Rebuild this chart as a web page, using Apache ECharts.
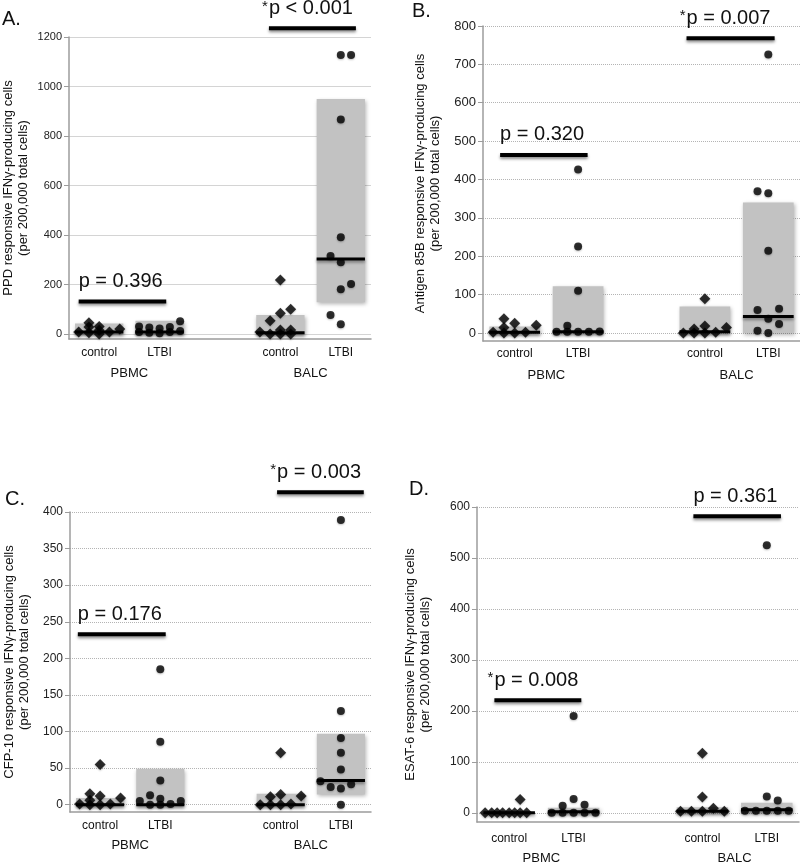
<!DOCTYPE html>
<html><head><meta charset="utf-8">
<script src="https://cdn.jsdelivr.net/npm/echarts@6/dist/echarts.min.js"></script>
<style>html,body{margin:0;padding:0;background:#fff}#c{width:800px;height:865px}</style>
</head><body><div id="c"></div>
<script>
// ---------- shared categories ----------
const categories = ['control', 'LTBI', 'control', 'LTBI'];
const categoryPos = [0, 1, 3, 4];
const groups = ['PBMC', 'BALC'];
const groupPos = [0.5, 3.5];

// ---------- Panel A : PPD ----------
const A_ticks = [0, 200, 400, 600, 800, 1000, 1200];
const A_ctrlPBMC = [8, 46, 28, 5, 30, 15, 0, 8, 20];
const A_ctrlPBMC_col = [-2, -1, -1, -1, 0, 0, 0, 1, 2];
const A_ltbiPBMC = [30, 8, 26, 5, 22, 3, 28, 8, 52, 12];
const A_ltbiPBMC_col = [-2, -2, -1, -1, 0, 0, 1, 1, 2, 2];
const A_ctrlBALC = [218, 54, 84, 100, 8, 0, 16, 0, 16, 0];
const A_ctrlBALC_col = [0, -1, 0, 1, -2, -1, 0, 0, 1, 1];
const A_ltbiBALC = [1127, 1127, 867, 391, 315, 290, 202, 181, 77, 40];
const A_ltbiBALC_col = [0, 1, 0, 0, -1, 0, 1, 0, -1, 0];
const A_q1 = [0, 0, 0, 128];
const A_med = [8, 8, 5, 303];
const A_q3 = [43, 54, 77, 950];
const A_pText = ['p = 0.396', '*p < 0.001'];
const A_pLevel = [131, 1235];

// ---------- Panel B : Antigen 85B ----------
const B_ticks = [0, 100, 200, 300, 400, 500, 600, 700, 800];
const B_ctrlPBMC = [2, 37, 14, 0, 25, 0, 2, 20];
const B_ctrlPBMC_col = [-2, -1, -1, -1, 0, 0, 1, 2];
const B_ltbiPBMC = [426, 225, 110, 19, 3, 3, 3, 3, 4];
const B_ltbiPBMC_col = [0, 0, 0, -1, -2, -1, 0, 1, 2];
const B_ctrlBALC = [89, 0, 10, 0, 18, 0, 2, 14];
const B_ctrlBALC_col = [0, -2, -1, -1, 0, 0, 1, 2];
const B_ltbiBALC = [726, 369, 364, 214, 60, 63, 37, 23, 6, 0];
const B_ltbiBALC_col = [0, -1, 0, 0, -1, 1, 0, 1, -1, 0];
const B_q1 = [0, 0, 0, 0];
const B_med = [2, 3, 3, 43];
const B_q3 = [17, 122, 69, 340];
const B_pText = ['p = 0.320', '*p = 0.007'];
const B_pLevel = [464, 768];

// ---------- Panel C : CFP-10 ----------
const C_ticks = [0, 50, 100, 150, 200, 250, 300, 350, 400];
const C_ctrlPBMC = [1, 15, 6, 0, 55, 12, 0, 1, 9];
const C_ctrlPBMC_col = [-2, -1, -1, -1, 0, 0, 0, 1, 2];
const C_ltbiPBMC = [185, 86, 33, 13, 5, 8, 1, 5, 0, 0];
const C_ltbiPBMC_col = [0, 0, 0, -1, -2, 0, 1, 2, -1, 0];
const C_ctrlBALC = [71, 11, 14, 12, 0, 0, 0, 1];
const C_ctrlBALC_col = [0, -1, 0, 2, -2, -1, 0, 1];
const C_ltbiBALC = [389, 128, 91, 71, 48, 32, 24, 22, 28, 0];
const C_ltbiBALC_col = [0, 0, 0, 0, 0, -2, -1, 0, 1, 0];
const C_q1 = [0, 0, 0, 14];
const C_med = [0, 0, 0, 33];
const C_q3 = [9, 49, 15, 97];
const C_pText = ['p = 0.176', '*p = 0.003'];
const C_pLevel = [233, 427];

// ---------- Panel D : ESAT-6 ----------
const D_ticks = [0, 100, 200, 300, 400, 500, 600];
const D_ctrlPBMC = [0, 0, 0, 0, 0, 0, 0, 0, 26];
const D_ctrlPBMC_col = [-2.2, -1.6, -1.1, -0.6, 0, 0.5, 1, 1.6, 1];
const D_ltbiPBMC = [190, 27, 14, 16, 0, 0, 0, 0, 0];
const D_ltbiPBMC_col = [0, 0, -1, 1, -2, -1, 0, 1, 2];
const D_ctrlBALC = [117, 31, 3, 3, 3, 9, 3];
const D_ctrlBALC_col = [0, 0, -2, -1, 0, 1, 2];
const D_ltbiBALC = [525, 32, 24, 4, 4, 4, 4, 4];
const D_ltbiBALC_col = [0, 0, 1, -2, -1, 0, 1, 2];
const D_q1 = [0, 0, 0, 0];
const D_med = [0, 2, 3, 6];
const D_q3 = [0, 10, 11, 20];
const D_pText = ['*p = 0.008', 'p = 0.361'];
const D_pLevel = [221, 582];

// ---------- layout / styles ----------
const F = 'Liberation Sans, Arial, Helvetica, sans-serif';
const JIT = 0.17;
const BOX_HW = 0.4;

const panels = [
  { letter: 'A.', lx: 2, ly: 20, name: 'PPD responsive IFN\u03b3-producing cells\n(per 200,000 total cells)',
    ticks: A_ticks, min: -20, grid: { left: 68, top: 37, width: 303, height: 302 },
    pts: [[A_ctrlPBMC, A_ctrlPBMC_col], [A_ltbiPBMC, A_ltbiPBMC_col], [A_ctrlBALC, A_ctrlBALC_col], [A_ltbiBALC, A_ltbiBALC_col]],
    q1: A_q1, med: A_med, q3: A_q3, pText: A_pText, pLevel: A_pLevel, pX: [[-0.34, 1.11], [2.81, 4.25]],
    tickSize: 11, dotted: false, nameGap: 38, catMargin: 8, grpOffset: 20 },
  { letter: 'B.', lx: 412, ly: 12, name: 'Antigen 85B responsive IFN\u03b3-producing cells\n(per 200,000 total cells)',
    ticks: B_ticks, min: -21, grid: { left: 483, top: 26, width: 317, height: 315 },
    pts: [[B_ctrlPBMC, B_ctrlPBMC_col], [B_ltbiPBMC, B_ltbiPBMC_col], [B_ctrlBALC, B_ctrlBALC_col], [B_ltbiBALC, B_ltbiBALC_col]],
    q1: B_q1, med: B_med, q3: B_q3, pText: B_pText, pLevel: B_pLevel, pX: [[-0.23, 1.15], [2.71, 4.1]],
    tickSize: 13, dotted: true, nameGap: 40, catMargin: 7, grpOffset: 20 },
  { letter: 'C.', lx: 5, ly: 500, name: 'CFP-10 responsive IFN\u03b3-producing cells\n(per 200,000 total cells)',
    ticks: C_ticks, min: -10, grid: { left: 70, top: 512, width: 301, height: 300 },
    pts: [[C_ctrlPBMC, C_ctrlPBMC_col], [C_ltbiPBMC, C_ltbiPBMC_col], [C_ctrlBALC, C_ctrlBALC_col], [C_ltbiBALC, C_ltbiBALC_col]],
    q1: C_q1, med: C_med, q3: C_q3, pText: C_pText, pLevel: C_pLevel, pX: [[-0.37, 1.09], [2.94, 4.38]],
    tickSize: 12, dotted: true, nameGap: 38, catMargin: 8, grpOffset: 19 },
  { letter: 'D.', lx: 409, ly: 490, name: 'ESAT-6 responsive IFN\u03b3-producing cells\n(per 200,000 total cells)',
    ticks: D_ticks, min: -18, grid: { left: 477, top: 507, width: 322, height: 316 },
    pts: [[D_ctrlPBMC, D_ctrlPBMC_col], [D_ltbiPBMC, D_ltbiPBMC_col], [D_ctrlBALC, D_ctrlBALC_col], [D_ltbiBALC, D_ltbiBALC_col]],
    q1: D_q1, med: D_med, q3: D_q3, pText: D_pText, pLevel: D_pLevel, pX: [[-0.23, 1.12], [2.86, 4.22]],
    tickSize: 12, dotted: true, nameGap: 44, catMargin: 11, grpOffset: 22 }
];

function renderBox(params, api) {
  const x = api.value(0), q1 = api.value(1), med = api.value(2), q3 = api.value(3);
  const tl = api.coord([x - BOX_HW, q3]);
  const br = api.coord([x + BOX_HW, q1]);
  const ml = api.coord([x - BOX_HW, med]);
  const mr = api.coord([x + BOX_HW, med]);
  const children = [];
  if (br[1] - tl[1] > 0.5) {
    children.push({ type: 'rect', shape: { x: tl[0], y: tl[1], width: br[0] - tl[0], height: br[1] - tl[1] },
      style: { fill: '#c2c2c2', shadowBlur: 4, shadowOffsetX: 1, shadowOffsetY: 2, shadowColor: 'rgba(0,0,0,0.3)' } });
  }
  children.push({ type: 'line', shape: { x1: ml[0], y1: ml[1], x2: mr[0], y2: mr[1] },
    style: { stroke: '#000', lineWidth: 3, shadowBlur: 3, shadowOffsetY: 2, shadowColor: 'rgba(0,0,0,0.4)' } });
  return { type: 'group', children };
}

function makePRender(texts) {
  return function (params, api) {
    const p0 = api.coord([api.value(0), api.value(2)]);
    const p1 = api.coord([api.value(1), api.value(2)]);
    const t = texts[params.dataIndex];
    const star = t[0] === '*';
    const children = [
      { type: 'line', shape: { x1: p0[0], y1: p0[1], x2: p1[0], y2: p1[1] },
        style: { stroke: '#000', lineWidth: 4, shadowBlur: 3, shadowOffsetY: 2, shadowColor: 'rgba(0,0,0,0.45)' } },
      { type: 'text', x: p0[0], y: p0[1] - 20,
        style: { text: star ? t.slice(1) : t, align: 'left', verticalAlign: 'middle',
          fontSize: 20, fontFamily: F, fill: '#111' } }
    ];
    if (star) {
      children.push({ type: 'text', x: p0[0] - 1, y: Math.max(p0[1] - 30, -1),
        style: { text: '*', align: 'right', verticalAlign: 'top', fontSize: 15, fontFamily: F, fill: '#111' } });
    }
    return { type: 'group', children };
  };
}

const option = { animation: false, grid: [], xAxis: [], yAxis: [], series: [], graphic: [] };

panels.forEach((p, i) => {
  option.grid.push(p.grid);
  option.graphic.push({ type: 'text', left: p.lx, top: p.ly - 11,
    style: { text: p.letter, font: '20px ' + F, fill: '#111' } });
  option.xAxis.push({
    type: 'value', gridIndex: i, min: -0.5, max: 4.5, position: 'bottom',
    axisLine: { show: true, onZero: false, lineStyle: { color: '#9c9c9c', width: 1.5 } },
    axisTick: { show: false }, splitLine: { show: false },
    axisLabel: { customValues: categoryPos, margin: p.catMargin, fontSize: 12, fontFamily: F, color: '#111',
      formatter: v => categories[categoryPos.indexOf(Math.round(v))] || '' }
  });
  option.xAxis.push({
    type: 'value', gridIndex: i, min: -0.5, max: 4.5, position: 'bottom', offset: p.grpOffset,
    axisLine: { show: false, onZero: false }, axisTick: { show: false }, splitLine: { show: false },
    axisLabel: { customValues: groupPos, margin: 8, fontSize: 13, fontFamily: F, color: '#111',
      formatter: v => groups[groupPos.indexOf(v)] || '' }
  });
  option.yAxis.push({
    type: 'value', gridIndex: i, min: p.min, max: p.ticks[p.ticks.length - 1],
    name: p.name, nameLocation: 'middle', nameRotate: 90, nameGap: p.nameGap,
    nameTextStyle: { fontSize: 13, fontFamily: F, color: '#111', lineHeight: 15 },
    axisLine: { show: true, onZero: false, lineStyle: { color: '#9c9c9c', width: 1.5 } },
    axisTick: { show: true, inside: false, length: 5, customValues: p.ticks, lineStyle: { color: '#9c9c9c' } },
    axisLabel: { customValues: p.ticks, fontSize: p.tickSize, fontFamily: F, color: '#222', margin: 7,
      formatter: v => String(v) },
    splitLine: { show: true, lineStyle: { color: p.dotted ? '#b4b4b4' : '#d4d4d4', type: p.dotted ? 'dotted' : 'solid', width: 1 } }
  });
  const xi = i * 2, yi = i;
  option.series.push({
    type: 'custom', xAxisIndex: xi, yAxisIndex: yi, z: 1, clip: false,
    renderItem: renderBox, encode: { x: 0, y: [1, 2, 3] },
    data: categoryPos.map((c, k) => [c, p.q1[k], p.med[k], p.q3[k]])
  });
  p.pts.forEach((g, k) => {
    const isCtrl = k % 2 === 0;
    option.series.push({
      type: 'scatter', xAxisIndex: xi, yAxisIndex: yi, z: 3, clip: false,
      symbol: isCtrl ? 'diamond' : 'circle', symbolSize: isCtrl ? 11 : 8,
      itemStyle: { color: '#000', shadowBlur: 2, shadowColor: 'rgba(0,0,0,0.3)', shadowOffsetY: 1 },
      data: g[0].map((v, j) => [categoryPos[k] + g[1][j] * JIT, v])
    });
  });
  option.series.push({
    type: 'custom', xAxisIndex: xi, yAxisIndex: yi, z: 4, clip: false,
    renderItem: makePRender(p.pText), encode: { x: [0, 1], y: 2 },
    data: p.pLevel.map((lv, k) => [p.pX[k][0], p.pX[k][1], lv])
  });
});

const chart = echarts.init(document.getElementById('c'), null, { renderer: 'canvas' });
chart.setOption(option);
</script>
</body></html>
